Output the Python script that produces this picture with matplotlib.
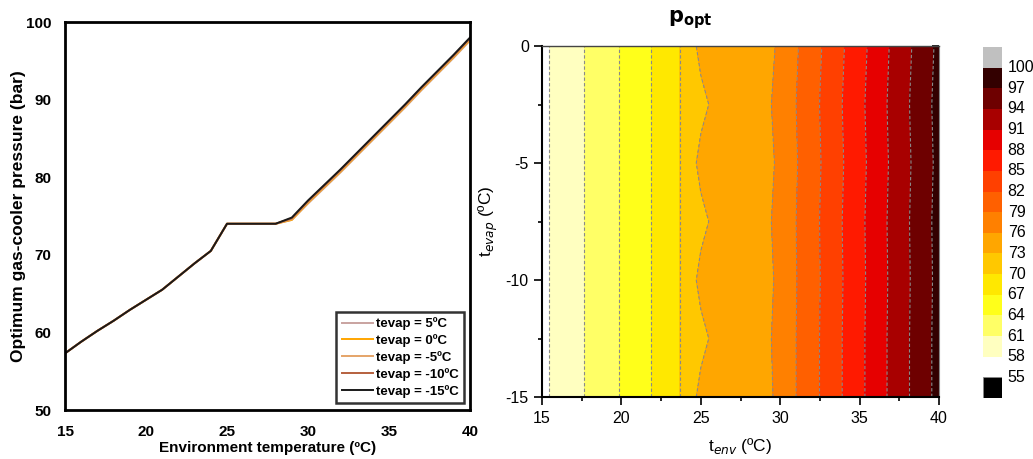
import numpy as np
import matplotlib
matplotlib.use("Agg")
import matplotlib.pyplot as plt
from matplotlib.patches import Rectangle

plt.rcParams['font.family'] = ['Liberation Sans', 'DejaVu Sans']

# ---------------- data ----------------
t_env = [15, 16, 17, 18, 19, 20, 21, 22, 23, 24, 25, 26, 27, 28, 29, 30,
         31, 32, 33, 34, 35, 36, 37, 38, 39, 40]

p_m15 = [57.3, 58.8, 60.2, 61.5, 62.9, 64.2, 65.5, 67.2, 68.9, 70.5, 74.0, 74.0, 74.0,
         74.0, 74.8, 77.0, 79.0, 81.0, 83.1, 85.2, 87.3, 89.4, 91.6, 93.7, 95.8, 98.0]
p_m10 = [57.3, 58.8, 60.2, 61.5, 62.9, 64.2, 65.5, 67.2, 68.9, 70.5, 74.0, 74.0, 74.0,
         74.0, 74.7, 76.9, 78.9, 80.9, 83.0, 85.1, 87.2, 89.3, 91.5, 93.6, 95.7, 97.9]
p_m5 = [57.3, 58.8, 60.2, 61.5, 62.9, 64.2, 65.5, 67.2, 68.9, 70.5, 74.0, 74.0, 74.0,
        74.0, 74.6, 76.8, 78.8, 80.8, 82.9, 85.0, 87.1, 89.2, 91.4, 93.5, 95.6, 97.8]
p_0 = [57.3, 58.8, 60.2, 61.5, 62.9, 64.2, 65.5, 67.2, 68.9, 70.5, 74.0, 74.0, 74.0,
       74.0, 74.5, 76.7, 78.7, 80.7, 82.8, 84.9, 87.0, 89.1, 91.3, 93.4, 95.5, 97.7]
p_5 = [57.3, 58.8, 60.2, 61.5, 62.9, 64.2, 65.5, 67.2, 68.9, 70.5, 74.0, 74.0, 74.0,
       74.0, 74.5, 76.6, 78.6, 80.6, 82.7, 84.8, 86.9, 89.0, 91.2, 93.3, 95.4, 97.6]
# rows read between the evaporation levels of the contour map
p_mid = [57.3, 58.8, 60.2, 61.5, 62.9, 64.2, 65.5, 67.2, 68.9, 70.5, 72.0, 74.0, 74.0,
         74.0, 75.2, 77.0, 79.0, 81.0, 83.1, 85.2, 87.3, 89.4, 91.6, 93.7, 95.8, 98.0]

series_labels = ['tevap = 5ºC', 'tevap = 0ºC', 'tevap = -5ºC', 'tevap = -10ºC', 'tevap = -15ºC']
series_colors = ['#C9A3A0', '#FFA500', '#E5A468', '#B5603E', '#1A1A1A']

t_evap_grid = [0, -2.5, -5, -7.5, -10, -12.5, -15]
contour_levels = [58, 61, 64, 67, 70, 73, 76, 79, 82, 85, 88, 91, 94, 97, 100]
band_colors = ['#FFFFC0', '#FFFF66', '#FFFF1A', '#FFE800', '#FFC800', '#FFA600',
               '#FF8000', '#FF6000', '#FF4000', '#FF1A00', '#E60000', '#A80000',
               '#6E0000', '#330000']
cbar_labels = [55, 58, 61, 64, 67, 70, 73, 76, 79, 82, 85, 88, 91, 94, 97, 100]

# ---------------- figure ----------------
W, H = 1033, 459
fig = plt.figure(figsize=(W / 100, H / 100), dpi=100)

def ax_rect(l, t, r, b):
    return [l / W, 1 - b / H, (r - l) / W, (b - t) / H]

# ---- left panel ----
ax1 = fig.add_axes(ax_rect(65, 22, 470, 410))
for lab, col, p in zip(series_labels, series_colors, [p_5, p_0, p_m5, p_m10, p_m15]):
    ax1.plot(t_env, p, color=col, lw=1.4, label=lab)
ax1.set_xlim(15, 40)
ax1.set_ylim(50, 100)
ax1.set_xticks([15, 20, 25, 30, 35, 40])
ax1.set_yticks([50, 60, 70, 80, 90, 100])
ax1.tick_params(length=0, labelsize=11)
ax1.tick_params(axis='x', pad=11)
ax1.tick_params(axis='y', pad=10)
for lbl in ax1.get_xticklabels() + ax1.get_yticklabels():
    lbl.set_fontweight('bold')
for s in ax1.spines.values():
    s.set_linewidth(2)
ax1.set_xlabel('Environment temperature (ºC)', fontsize=11, fontweight='bold', labelpad=1)
ax1.set_ylabel('Optimum gas-cooler pressure (bar)', fontsize=12.5, fontweight='bold', labelpad=0)
leg = ax1.legend(loc='lower right', bbox_to_anchor=(0.985, 0.018), fontsize=9.5,
                 frameon=True, fancybox=False, edgecolor='black', handlelength=2.4,
                 handletextpad=0.2, labelspacing=0.3, borderpad=0.4, borderaxespad=0)
leg.get_frame().set_linewidth(1.8)
for t in leg.get_texts():
    t.set_fontweight('bold')

# ---- right panel (contour) ----
ax2 = fig.add_axes(ax_rect(542, 46, 939, 397))
Z = np.array([p_0, p_mid, p_m5, p_mid, p_m10, p_mid, p_m15])
X, Y = np.meshgrid(t_env, t_evap_grid)
ax2.contourf(X, Y, Z, levels=contour_levels, colors=band_colors)
ax2.contour(X, Y, Z, levels=contour_levels, colors='#8a8a8a', linewidths=0.8,
            linestyles=[(0, (3, 2))])
ax2.set_xlim(15, 40)
ax2.set_ylim(-15, 0)
ax2.set_xticks([15, 20, 25, 30, 35, 40])
ax2.set_xticks([17.5, 22.5, 27.5, 32.5, 37.5], minor=True)
ax2.set_yticks([0, -5, -10, -15])
ax2.set_yticks([-2.5, -7.5, -12.5], minor=True)
ax2.set_yticklabels(['0', '-5', '-10', '-15'])
ax2.tick_params(axis='both', which='both', direction='out', labelsize=11.5, width=1.2)
ax2.tick_params(axis='both', which='major', length=6)
ax2.tick_params(axis='both', which='minor', length=3)
ax2.tick_params(axis='x', pad=4)
ax2.spines['left'].set_linewidth(1.5)
ax2.spines['bottom'].set_linewidth(1.5)
ax2.spines['top'].set_linewidth(1.0)
ax2.spines['top'].set_color('#444444')
ax2.spines['right'].set_linewidth(0.8)
ax2.spines['right'].set_color('#888888')
# inward ticks on the top and right sides
ax2t = ax2.secondary_xaxis('top')
ax2t.set_xticks([15, 20, 25, 30, 35, 40])
ax2t.set_xticks([17.5, 22.5, 27.5, 32.5, 37.5], minor=True)
ax2t.tick_params(which='both', direction='in', labeltop=False, width=1.2)
ax2t.tick_params(which='major', length=5)
ax2t.tick_params(which='minor', length=3)
ax2t.spines['top'].set_visible(False)
ax2r = ax2.secondary_yaxis('right')
ax2r.set_yticks([0, -5, -10, -15])
ax2r.set_yticks([-2.5, -7.5, -12.5], minor=True)
ax2r.tick_params(which='both', direction='in', labelright=False, width=1.2)
ax2r.tick_params(which='major', length=5)
ax2r.tick_params(which='minor', length=3)
ax2r.spines['right'].set_visible(False)

ax2.set_xlabel('t$_{env}$ (ºC)', fontsize=12.5, labelpad=7)
ax2.set_ylabel('t$_{evap}$ (ºC)', fontsize=12.5, labelpad=4)
fig.text(690 / W, 1 - 20 / H, r'$\mathbf{p}_{\mathbf{opt}}$', fontsize=15,
         ha='center', va='center')

# ---- colour scale ----
cax = fig.add_axes(ax_rect(983, 47, 1002, 398))
cax.set_xlim(0, 1)
cax.set_ylim(0, 17)
cax.axis('off')
cax.add_patch(Rectangle((0, 0), 1, 1, facecolor='black', edgecolor='#888888', lw=0.6))
for i, c in enumerate(band_colors):
    cax.add_patch(Rectangle((0, 2 + i), 1, 1, facecolor=c, edgecolor='none'))
cax.add_patch(Rectangle((0, 2 + len(band_colors)), 1, 1, facecolor='#C0C0C0', edgecolor='none'))
for j, v in enumerate(cbar_labels):
    cax.text(1.3, 1 + j, str(v), fontsize=11.5, ha='left', va='center',
             transform=cax.transData, clip_on=False)

fig.savefig('out.png', dpi=100)
